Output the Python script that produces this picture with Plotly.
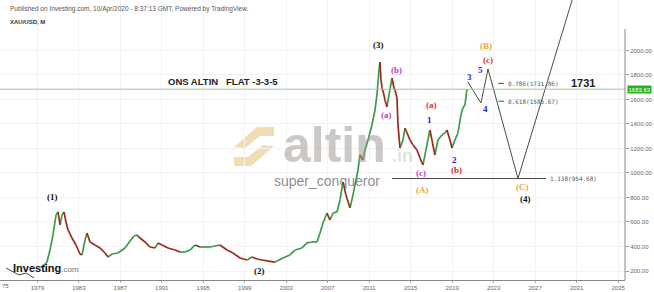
import plotly.graph_objects as go

# ---------------- data ----------------
years = [1979.3, 1979.6, 1979.93, 1980.22, 1980.51, 1980.80, 1980.99, 1981.19, 1981.38, 1981.57,
         1981.76, 1981.96, 1982.34, 1982.73, 1983.11, 1983.31, 1983.60, 1983.79, 1984.08, 1984.56,
         1985.04, 1985.53, 1985.81, 1986.20, 1986.78, 1987.45, 1987.94, 1988.32, 1988.61, 1988.90,
         1989.38, 1989.86, 1990.35, 1990.64, 1991.02, 1991.60, 1992.28, 1992.76, 1993.24, 1993.72,
         1994.20, 1994.69, 1995.65, 1996.61, 1997.29, 1997.87, 1998.54, 1999.22, 1999.70, 2000.18,
         2000.66, 2001.15, 2001.92, 2002.69, 2003.36, 2003.85, 2004.52, 2005.00, 2005.49, 2005.97,
         2006.26, 2006.55, 2006.74, 2006.93, 2007.22, 2007.51, 2007.90, 2008.19, 2008.48, 2008.76,
         2009.15, 2009.44, 2009.63, 2009.92, 2010.11, 2010.40, 2010.60, 2010.89, 2011.27, 2011.56,
         2011.75, 2011.95, 2012.04, 2012.14, 2012.24, 2012.43, 2012.52, 2012.72, 2012.91, 2013.20,
         2013.39, 2013.49, 2013.68, 2013.78, 2013.97, 2014.26, 2014.45, 2014.65, 2014.94, 2015.23,
         2015.61, 2015.90, 2016.19, 2016.57, 2016.86, 2017.05, 2017.34, 2017.63, 2018.02, 2018.31,
         2018.50, 2018.79, 2018.99, 2019.27, 2019.56, 2019.85, 2020.04, 2020.24, 2020.43]
closes = [228, 240, 273, 371, 494, 657, 682, 576, 657, 682,
          600, 535, 469, 412, 339, 331, 453, 510, 437, 412,
          388, 347, 314, 339, 347, 388, 445, 486, 494, 469,
          437, 396, 388, 429, 412, 388, 371, 355, 355, 371,
          412, 396, 396, 412, 371, 347, 306, 290, 314, 298,
          290, 282, 273, 306, 331, 371, 388, 429, 437, 437,
          510, 592, 633, 673, 616, 673, 682, 780, 927, 820,
          714, 820, 902, 1024, 1147, 1106, 1188, 1269, 1392, 1514,
          1637, 1841, 1906, 1759, 1694, 1637, 1596, 1539, 1637, 1775,
          1694, 1678, 1612, 1392, 1204, 1269, 1367, 1327, 1269, 1229,
          1188, 1122, 1065, 1229, 1351, 1269, 1147, 1269, 1310, 1327,
          1351, 1269, 1204, 1269, 1327, 1473, 1531, 1555, 1683.63]
assert len(years) == len(closes)

last_price = 1683.63

# Elliott projection path (drawn by the author)
proj_years = [2020.50, 2021.78, 2022.46, 2025.35, 2032.0]
proj_values = [1745, 1571, 1849, 954.68, 2810]

fib_labels = ["0.786(1731.86)", "0.618(1585.67)", "1.138(954.68)"]
fib_values = [1731.86, 1585.67, 954.68]

x_ticks = [1979, 1983, 1987, 1991, 1995, 1999, 2003, 2007, 2011, 2015, 2019, 2023, 2027, 2031, 2035]
y_ticks = [200, 400, 600, 800, 1000, 1200, 1400, 1600, 1800, 2000]

# ---------------- layout geometry ----------------
W, H = 654, 292
PL, PR, PT, PB = 0, 625, 0, 280        # plot area in pixels
X0, X1 = 1975.40, 2035.67
Y0, Y1 = 126.5, 2412.0


def pxx(x):
    return (x - PL) / (PR - PL)


def pxy(y):
    return 1 - (y - PT) / (PB - PT)


fig = go.Figure()

# price path coloured by direction
ux, uy, dx, dy = [], [], [], []
for i in range(1, len(years)):
    seg_x = [years[i - 1], years[i], None]
    seg_y = [closes[i - 1], closes[i], None]
    if closes[i] >= closes[i - 1]:
        ux += seg_x
        uy += seg_y
    else:
        dx += seg_x
        dy += seg_y
fig.add_trace(go.Scatter(x=ux, y=uy, mode="lines", line=dict(color="#3e9a47", width=1.7),
                         hoverinfo="skip", showlegend=False))
fig.add_trace(go.Scatter(x=dx, y=dy, mode="lines", line=dict(color="#9b2a1f", width=1.7),
                         hoverinfo="skip", showlegend=False))

# last-price line
fig.add_shape(type="line", xref="paper", x0=0, x1=1, yref="y", y0=last_price, y1=last_price,
              line=dict(color="#8fd18f", width=1))

# projection path
fig.add_trace(go.Scatter(x=proj_years, y=proj_values, mode="lines",
                         line=dict(color="#4a4a4a", width=1), hoverinfo="skip", showlegend=False))

# fib levels
fib_x0 = [2023.45, 2023.45, 2013.20]
fib_x1 = [2024.00, 2024.00, 2028.05]
for lab, val, a, b in zip(fib_labels, fib_values, fib_x0, fib_x1):
    fig.add_shape(type="line", x0=a, x1=b, y0=val, y1=val, xref="x", yref="y",
                  line=dict(color="#4a4a4a", width=1))
    fig.add_annotation(x=b + 0.15, y=val, text=lab, showarrow=False, xanchor="left",
                       font=dict(family="DejaVu Sans Mono", size=6, color="#555555"))

# right axis line (starts below header)
fig.add_shape(type="line", xref="paper", yref="paper", x0=1, x1=1, y0=0, y1=pxy(29),
              line=dict(color="#888888", width=1))

# price label
fig.add_annotation(xref="paper", x=1.003, y=last_price, yref="y", text="1683.63", showarrow=False,
                   xanchor="left", bgcolor="#21b521", borderpad=0.5,
                   font=dict(family="Liberation Sans", size=6, color="white"))


def txt(t, x, y, size, color, family="Liberation Sans", anchor="center"):
    fig.add_annotation(xref="paper", yref="paper", x=pxx(x), y=pxy(y), text=t, showarrow=False,
                       xanchor=anchor, yanchor="middle",
                       font=dict(family=family, size=size, color=color))


# partial first year label
txt("75", 6, 286, 6, "#666666")

txt("Published on Investing.com, 10/Apr/2020 - 8:37:13 GMT, Powered by TradingView.", 8, 9, 6.5,
    "#555555", anchor="left")
txt("<b>XAU/USD, M</b>", 8, 22, 6, "#333333", anchor="left")
txt("<b>ONS ALTIN\u00a0\u00a0 FLAT -3-3-5</b>", 166, 81, 9.5, "#222222", anchor="left")
txt("<b>1731</b>", 583, 83, 11, "#222222")

# watermark
fig.add_shape(type="path", xref="paper", yref="paper",
              path="M {},{} L {},{} L {},{} L {},{} L {},{} L {},{} Z".format(
                  pxx(234), pxy(147), pxx(257), pxy(127), pxx(274), pxy(127),
                  pxx(274), pxy(136), pxx(260), pxy(136), pxx(245), pxy(148)),
              fillcolor="#efd7a6", line=dict(width=0), opacity=0.85, layer="below")
fig.add_shape(type="path", xref="paper", yref="paper",
              path="M {},{} L {},{} L {},{} L {},{} L {},{} L {},{} Z".format(
                  pxx(274), pxy(146), pxx(251), pxy(166), pxx(234), pxy(166),
                  pxx(234), pxy(157), pxx(248), pxy(157), pxx(263), pxy(145)),
              fillcolor="#efd7a6", line=dict(width=0), opacity=0.85, layer="below")
txt("<b>altin</b>", 281, 145, 50, "rgba(160,155,150,0.55)", anchor="left")
txt("<b>.in</b>", 390, 156, 18, "rgba(190,190,190,0.45)", anchor="left")
txt("super_conqueror", 327, 181, 14, "rgba(120,120,120,0.85)")

# Investing.com logo
txt("<b>Investing</b><span style='font-size:8px;color:#777'>.com</span>", 11, 268, 11, "#111111",
    anchor="left")
fig.add_shape(type="path", xref="paper", yref="paper",
              path="M {},{} L {},{} L {},{} L {},{}".format(
                  pxx(6), pxy(268), pxx(19), pxy(275), pxx(26), pxy(273), pxx(34), pxy(278)),
              line=dict(color="#444444", width=1))

# wave labels
wave_texts = ["(1)", "(2)", "(3)", "(4)", "(A)", "(B)", "(C)",
              "(a)", "(b)", "(c)", "(a)", "(b)", "(c)", "1", "2", "3", "4", "5"]
wave_px = [52, 259, 378, 525, 422, 486, 522, 386, 396, 421, 431, 456, 488, 430, 454, 469, 485, 481]
wave_py = [197, 271, 45, 199, 190, 46, 187, 115, 70, 173, 105, 170, 60, 120, 160, 77, 109, 70]
wave_colors = ["#111111"] * 4 + ["#f0a534"] * 3 + ["#c43cc4"] * 3 + ["#d83030"] * 3 + ["#2020c8"] * 5
for t, x, y, c in zip(wave_texts, wave_px, wave_py, wave_colors):
    txt("<b>" + t + "</b>", x, y, 9, c, family="Liberation Serif")

fig.update_layout(
    width=W, height=H, margin=dict(l=PL, r=W - PR, t=PT, b=H - PB, autoexpand=False),
    paper_bgcolor="white", plot_bgcolor="white", showlegend=False,
    xaxis=dict(range=[X0, X1], tickvals=x_ticks, ticktext=[str(v) for v in x_ticks],
               tickfont=dict(family="Liberation Sans", size=6, color="#666666"),
               showgrid=True, gridcolor="#f3f3f3", showline=True, linecolor="#888888",
               ticks="outside", ticklen=2, tickcolor="#aaaaaa", zeroline=False, automargin=False),
    yaxis=dict(range=[Y0, Y1], side="right", tickvals=y_ticks,
               ticktext=["%.2f" % v for v in y_ticks],
               tickfont=dict(family="Liberation Sans", size=6, color="#666666"),
               showgrid=True, gridcolor="#f3f3f3", showline=False,
               ticks="outside", ticklen=3, tickcolor="#999999", zeroline=False, automargin=False),
)

fig.write_html("out.html")
